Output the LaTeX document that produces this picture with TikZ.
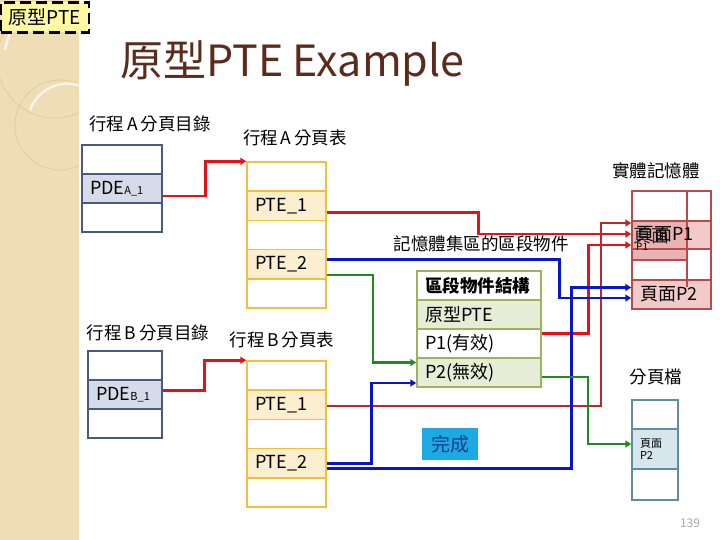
\documentclass[tikz,border=0pt]{standalone}
\usepackage{fontspec}
\setmainfont{Noto Sans CJK TC}
\usetikzlibrary{arrows.meta}
\definecolor{bgstrip}{HTML}{EFDDB5}
\definecolor{bgarc}{HTML}{E2CCA0}
\definecolor{tagfill}{HTML}{FFF9A6}
\definecolor{titlec}{HTML}{5B2C1E}
\definecolor{dirb}{HTML}{4A5A7C}
\definecolor{dirfill}{HTML}{D5DBE8}
\definecolor{ptb}{HTML}{EFC03A}
\definecolor{ptfill}{HTML}{FCEFCF}
\definecolor{segb}{HTML}{9CB45C}
\definecolor{segfill}{HTML}{E6ECD6}
\definecolor{pmb}{HTML}{B84A4A}
\definecolor{pmfill}{HTML}{F3CACA}
\definecolor{pmdark}{HTML}{E9B3B3}
\definecolor{pfb}{HTML}{5F8E9C}
\definecolor{pffill}{HTML}{D6E6EC}
\definecolor{cred}{HTML}{E0141A}
\definecolor{credd}{HTML}{B8282C}
\definecolor{cblue}{HTML}{0A14C8}
\definecolor{cgreen}{HTML}{1E8C1E}
\definecolor{cdone}{HTML}{1DAAE2}
\definecolor{cdonet}{HTML}{1C3C8C}
\definecolor{pgnum}{HTML}{A8A8A8}
\begin{document}
\begin{tikzpicture}[x=1pt,y=-1pt,
  lbl/.style={font=\fontsize{17.5}{18}\selectfont, inner sep=0pt},
  cellbase/.style={line width=1.5pt, inner ysep=0pt, inner xsep=8pt, align=left, font=\fontsize{18}{18}\selectfont},
  dircellA/.style={cellbase, draw=dirb, fill=white, text width=64pt, minimum height=29pt},
  dircellB/.style={cellbase, draw=dirb, fill=white, text width=58pt, minimum height=29pt},
  ptcell/.style={cellbase, draw=ptb, fill=white, text width=63pt, minimum height=29.2pt},
  segcell/.style={cellbase, draw=segb, fill=white, text width=108pt, minimum height=29pt},
  pfcell/.style={cellbase, draw=pfb, fill=white, text width=30pt, inner xsep=8pt, font=\fontsize{11}{12}\selectfont},
  pmcell/.style={draw=pmb, line width=1.5pt, fill=pmfill, minimum width=79pt, inner sep=0pt},
  conn/.style={line width=2.6pt, -{Triangle[length=6pt,width=7pt]}},
  redc/.style={conn, draw=cred},
  bluec/.style={conn, draw=cblue},
  greenc/.style={conn, draw=cgreen, line width=2.2pt}]
\useasboundingbox (0,0) rectangle (720,540);
% background strip
\fill[bgstrip] (0,0) rectangle (79,540);
\begin{scope}
\clip (0,0) rectangle (79,540);
\draw[bgarc, line width=0.8pt] (60,125) circle (45);
\draw[bgarc, line width=0.8pt] (55,60) circle (58);
\draw[white!70!bgstrip, line width=2.5pt] (30,110) arc (200:290:40);
\draw[white!70!bgstrip, line width=2.5pt] (5,50) arc (190:260:70);
\end{scope}
% tag
\node[draw=black, line width=2.8pt, dash pattern=on 11pt off 5pt, fill=tagfill,
  minimum width=88pt, minimum height=30pt, inner sep=0pt,
  font=\fontsize{19}{19}\selectfont] (tag) at (45,17.5) {原型PTE};
% title
\node[anchor=west, text=titlec, inner sep=0pt, font=\fontsize{43}{43}\selectfont] (title) at (120,63) {原型PTE Example};
% labels
\node[lbl] (lA) at (150,124) {行程\,A\,分頁目錄};
\node[lbl] (lAt) at (295,138) {行程\,A\,分頁表};
\node[lbl] (lB) at (148,333) {行程\,B\,分頁目錄};
\node[lbl] (lBt) at (282,340) {行程\,B\,分頁表};
\node[lbl] (lpm) at (656,171) {實體記憶體};
\node[lbl] (lseg) at (481,244) {記憶體集區的區段物件};
\node[lbl] (lpf) at (656,377) {分頁檔};
\node[inner sep=0pt, text=pgnum, font=\fontsize{12}{12}\selectfont] (pg) at (690,523) {139};
% directory A
\node[dircellA] (da1) at (122,159.5) {};
\node[dircellA, fill=dirfill] (da2) at (122,188.5) {PDE{\fontsize{11}{11}\selectfont A\_1}};
\node[dircellA] (da3) at (122,217.5) {};
% directory B
\node[dircellB] (db1) at (125,365.5) {};
\node[dircellB, fill=dirfill] (db2) at (125,394.5) {PDE{\fontsize{11}{11}\selectfont B\_1}};
\node[dircellB] (db3) at (125,423.5) {};
% page table A
\node[ptcell] (pta0) at (286.5,176.6) {};
\node[ptcell, fill=ptfill] (pta1) at (286.5,205.8) {PTE\_1};
\node[ptcell] (pta3) at (286.5,235) {};
\node[ptcell, fill=ptfill] (pta4) at (286.5,264.2) {PTE\_2};
\node[ptcell] (pta5) at (286.5,293.4) {};
% page table B
\node[ptcell] (ptb0) at (286.5,375.6) {};
\node[ptcell, fill=ptfill] (ptb1) at (286.5,404.8) {PTE\_1};
\node[ptcell] (ptb3) at (286.5,434) {};
\node[ptcell, fill=ptfill] (ptb4) at (286.5,463.2) {PTE\_2};
\node[ptcell] (ptb5) at (286.5,492.4) {};
% segment object
\node[segcell, font=\fontsize{17.5}{17.5}\selectfont\bfseries] (sg1) at (479,285.5) {區段物件結構};
\node[segcell, fill=segfill] (sg2) at (479,314.5) {原型PTE};
\node[segcell] (sg3) at (479,343.5) {P1(有效)};
\node[segcell, fill=segfill] (sg4) at (479,372.5) {P2(無效)};
% physical memory
\draw[pmb, line width=1.5pt, fill=white] (632,191) rectangle (711,309);
\node[pmcell, minimum height=28pt] (pm1) at (671.5,235) {};
\fill[pmdark] (632,221) rectangle (687,260);
\draw[pmb, line width=1.5pt] (632,221) rectangle (711,249);
\draw[pmb, line width=1.5pt] (632,260) -- (687,260);
\node[pmcell, minimum height=29pt] (pm2) at (671.5,294.5) {};
\draw[pmb, line width=1.5pt] (687,191) -- (687,287);
\draw[pmb, line width=1.5pt] (632,191) rectangle (711,309);
\node[anchor=west, inner sep=0pt, font=\fontsize{18}{18}\selectfont, opacity=0.8] (gh) at (633,236) {頁面};
\node[anchor=west, inner sep=0pt, font=\fontsize{18}{18}\selectfont] (p1t) at (636,234) {頁面P1};
\node[anchor=west, inner sep=0pt, font=\fontsize{10}{10}\selectfont] (p1s) at (636,247) {P1};
\node[anchor=west, inner sep=0pt, font=\fontsize{18}{18}\selectfont] (p2t) at (640,294.5) {頁面P2};
% page file
\node[pfcell, minimum height=29pt] (pf1) at (655,414.5) {};
\node[pfcell, fill=pffill, minimum height=40pt] (pf2) at (655,449) {頁面\\P2};
\node[pfcell, minimum height=31pt] (pf3) at (655,484.5) {};
% done
\node[fill=cdone, text=cdonet, minimum width=56pt, minimum height=32pt, inner sep=0pt,
  font=\fontsize{19}{19}\selectfont] (done) at (450,444) {完成};
% connectors
\draw[redc] ([yshift=-7.5pt]da2.east) -- ++(43,0) |- (pta0.north west);
\draw[redc] ([yshift=4pt]db2.east) -- ++(42,0) |- (ptb0.north west);
\draw[redc] ([yshift=-7pt]pta1.east) -- ++(152,0) |- ([yshift=1pt]pm1.west);
\draw[redc, draw=credd, line width=2pt] ([yshift=-1pt]ptb1.east) -- ++(274,0) |- ([yshift=12pt]pm1.west);
\draw[redc] ([yshift=10pt]sg3.east) -- ++(47,0) |- ([yshift=-10pt]pm1.west);
\draw[bluec] ([yshift=5pt]pta4.east) -- ++(233,0) |- ([yshift=-3.5pt]pm2.west);
\draw[greenc] ([yshift=-11pt]pta4.east) -- ++(46,0) |- ([yshift=10pt]sg4.west);
\draw[bluec] (ptb4.east) -- ++(45,0) |- ([yshift=-10.5pt]sg4.west);
\draw[bluec] ([yshift=-5pt]ptb4.east) -- ++(245,0) |- ([yshift=7pt]pm2.west);
\draw[greenc] ([yshift=-4.5pt]sg4.east) -- ++(46,0) |- ([yshift=5pt]pf2.west);
\end{tikzpicture}
\end{document}
